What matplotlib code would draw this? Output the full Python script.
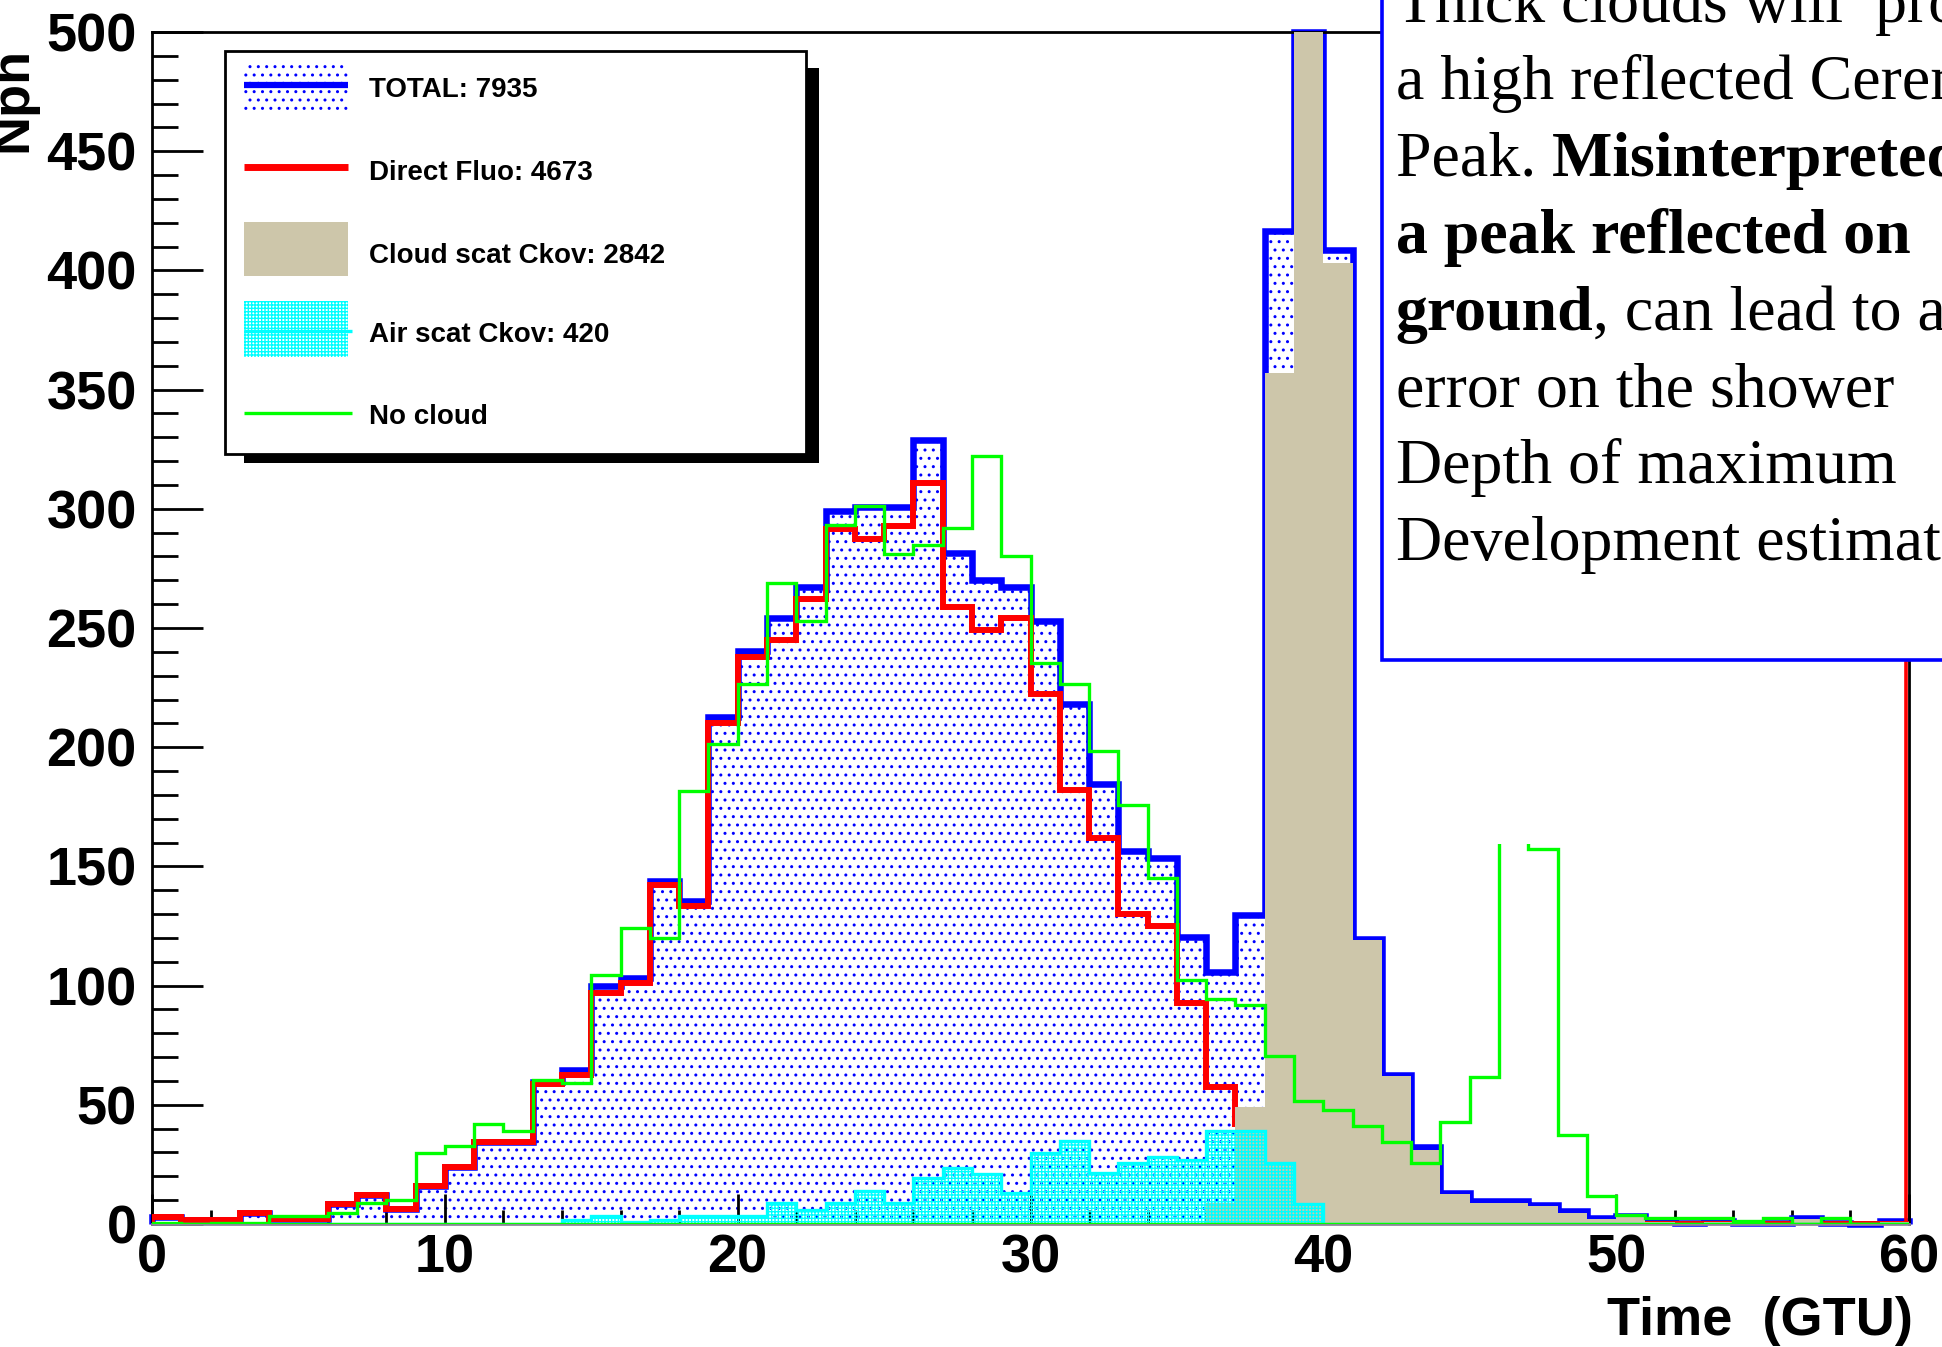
import numpy as np
import matplotlib
matplotlib.use("Agg")
import matplotlib.pyplot as plt
from matplotlib.patches import Rectangle
from matplotlib.lines import Line2D
from matplotlib.ticker import MultipleLocator
from matplotlib.transforms import offset_copy

# ---------------- data ----------------
bin_edges = np.arange(0, 61, 1)          # 60 bins of 1 GTU

total = [3, 1.5, 1.5, 4.5, 2, 2, 8.4, 12.2, 6.3, 16,
         23.7, 34.5, 34.5, 59.5, 64.5, 99.7, 103, 143.9, 135.4, 212.6,
         240.5, 254, 267, 299, 300.6, 300.6, 329, 281.6, 270, 267,
         253, 218, 184.6, 156.4, 153.7, 120.4, 105.7, 129.7, 416.6, 1740,
         408.5, 119.6, 62.5, 32.2, 13.2, 9.5, 9.5, 8.1, 5.3, 2.7,
         3.5, 1.4, 0.5, 1.4, 0.5, 0.5, 2.7, 0.3, 0, 1.4]

direct = [3, 1.5, 1.5, 4.5, 2, 2, 8.4, 12.2, 6.3, 16,
          23.7, 34.5, 34.5, 58.6, 62.4, 97, 101, 142.4, 133.3, 210,
          238, 245, 262, 291.7, 287.5, 292.6, 311, 259, 249, 254,
          222.5, 182, 162, 130, 125, 92.6, 57.5, 42, 14, 1,
          0, 0, 0, 0, 0, 0, 0, 0, 0, 0,
          0, 0, 0, 0, 0, 0, 0, 0, 0, 0]

cloud = [0, 0, 0, 0, 0, 0, 0, 0, 0, 0,
         0, 0, 0, 0, 0, 0, 0, 0, 0, 0,
         0, 0, 0, 0, 0, 0, 0, 0, 0, 0,
         0, 0, 0, 0, 0, 0, 9, 49, 357, 1759,
         403, 119, 62, 31, 12.5, 8.6, 8.6, 7.5, 4.7, 2.2,
         3, 0.8, 0.3, 0.8, 0.3, 0.3, 2.2, 0.3, 0, 0.8]

air = [0, 0, 0, 0, 0, 0, 0, 0, 0, 0,
       0, 0, 0, 0, 1.7, 3.4, 1, 1.7, 3.4, 3.4,
       3.4, 9, 5.9, 9, 13.8, 9, 19.4, 23.6, 20.8, 12.9,
       29.9, 35, 21.5, 25.5, 28, 27, 39, 39, 25.5, 8.5,
       0, 0, 0, 0, 0, 0, 0, 0, 0, 0,
       0, 0, 0, 0, 0, 0, 0, 0, 0, 0]

nocloud = [0.5, 0, 0.5, 0.5, 3.4, 3.4, 4.7, 8.6, 10, 29.6,
           32.7, 41.8, 39, 60.4, 59, 104.4, 124.2, 120.1, 181.5, 201.4,
           226.7, 269, 253, 293, 301, 281, 285, 292, 322, 280,
           235.5, 226.7, 198.4, 175.7, 145.3, 102.3, 94.2, 91.7, 70.6, 51.5,
           47.8, 41, 34.5, 25.6, 42.8, 61.6, 420, 157.3, 37.2, 11.9,
           3.9, 2.7, 2.7, 2.7, 1.4, 2.7, 0, 2.7, 0, 0]

legend_labels = ["TOTAL: 7935", "Direct Fluo: 4673", "Cloud scat Ckov: 2842",
                 "Air scat Ckov: 420", "No cloud"]
x_ticks = [0, 10, 20, 30, 40, 50, 60]
y_ticks = [0, 50, 100, 150, 200, 250, 300, 350, 400, 450, 500]
x_title = "Time  (GTU)"
y_title = "Nph"
note_lines = [
    [("Thick clouds will  produce", False)],
    [("a high reflected Cerenkov", False)],
    [("Peak. ", False), ("Misinterpreted as", True)],
    [("a peak reflected on", True)],
    [("ground", True), (", can lead to an", False)],
    [("error on the shower", False)],
    [("Depth of maximum", False)],
    [("Development estimation", False)],
]

# ---------------- style ----------------
W, H, DPI = 1942, 1347, 100
XMAX, YMAX = 60, 500
BLUE, RED, TAN, CYAN, GREEN = "#0000ff", "#ff0000", "#cdc6aa", "#00ffff", "#00ff00"

plt.rcParams["font.family"] = ["Liberation Sans", "DejaVu Sans"]
plt.rcParams["hatch.linewidth"] = 1.0

fig = plt.figure(figsize=(W / DPI, H / DPI), dpi=DPI)
fig.patch.set_facecolor("white")


def fx(x):
    return x / W


def fy(y):
    return 1 - y / H


ax_l, ax_r, ax_t, ax_b = 152, 1909, 32, 1224
ax = fig.add_axes([fx(ax_l), fy(ax_b), (ax_r - ax_l) / W, (ax_b - ax_t) / H])

# TOTAL: dotted fill + thick outline
ax.stairs(total, bin_edges, fill=True, facecolor="none", edgecolor=BLUE,
          hatch="..", linewidth=0, zorder=1)
ax.stairs(np.minimum(total, YMAX), bin_edges, color=BLUE, linewidth=4.7,
          zorder=2, clip_on=False)
# Direct fluorescence
ax.stairs(direct, bin_edges, color=RED, linewidth=4.3, zorder=3)
ax.vlines(bin_edges[-1], 0, YMAX, color=RED, linewidth=2.6, zorder=2.4,
          transform=offset_copy(ax.transData, fig=fig, x=-2.6, y=0, units="dots"))
# Cloud scattered Cherenkov
ax.stairs(cloud, bin_edges, fill=True, facecolor=TAN, edgecolor="none",
          linewidth=0, zorder=4)
# Air scattered Cherenkov
ax.stairs(air, bin_edges, fill=True, facecolor="none", edgecolor=CYAN,
          hatch="+++++", linewidth=0, zorder=5)
ax.stairs(air, bin_edges, color=CYAN, linewidth=2.4, zorder=5)
# No cloud
ax.stairs(nocloud, bin_edges, color=GREEN, linewidth=2.4, zorder=6)
ax.axhline(0, color=GREEN, linewidth=2.4, zorder=6)
# white area hiding the top of the no-cloud ground peak (as in the reference)
ax.add_patch(Rectangle((bin_edges[46] - 0.2, 159.5), 1.4, 300,
                       facecolor="white", edgecolor="none", zorder=6.5))

ax.set_xlim(0, XMAX)
ax.set_ylim(0, YMAX)
ax.set_xticks(x_ticks)
ax.set_yticks(y_ticks)
ax.xaxis.set_minor_locator(MultipleLocator(2))
ax.yaxis.set_minor_locator(MultipleLocator(10))
ax.tick_params(axis="both", which="both", direction="in", top=False,
               right=False, width=2, colors="black")
ax.tick_params(axis="y", which="major", length=37, pad=11, labelsize=39)
ax.tick_params(axis="y", which="minor", length=18.5)
ax.tick_params(axis="x", which="major", length=21.5, pad=7, labelsize=39)
ax.tick_params(axis="x", which="minor", length=10)
for lab in ax.get_xticklabels() + ax.get_yticklabels():
    lab.set_fontweight("bold")
for side in ["left", "top", "right"]:
    ax.spines[side].set_linewidth(2)
    ax.spines[side].set_color("black")
ax.spines["bottom"].set_linewidth(2)
ax.spines["bottom"].set_color("#8a8a96")

# axis titles
fig.text(fx(1913), fy(1335), x_title, ha="right", va="baseline",
         fontsize=39, fontweight="bold")
fig.text(fx(26), fy(47), y_title, rotation=90, rotation_mode="anchor",
         ha="right", va="baseline", fontsize=39, fontweight="bold")


# ---------------- legend (drawn by hand, ROOT style) ----------------
def rect_px(x0, y0, x1, y1, **kw):
    r = Rectangle((fx(x0), fy(y1)), (x1 - x0) / W, (y1 - y0) / H,
                  transform=fig.transFigure, **kw)
    fig.add_artist(r)
    return r


def line_px(x0, x1, y, **kw):
    ln = Line2D([fx(x0), fx(x1)], [fy(y), fy(y)], transform=fig.transFigure,
                solid_capstyle="butt", **kw)
    fig.add_artist(ln)
    return ln


rect_px(244, 68, 819, 463, facecolor="black", edgecolor="none", zorder=1)
rect_px(225, 51, 806, 454, facecolor="white", edgecolor="black",
        linewidth=2, zorder=1.1)
# TOTAL
rect_px(244, 62, 348, 113, facecolor="none", edgecolor=BLUE, hatch="..",
        linewidth=0, zorder=1.2)
line_px(244, 348, 85, color=BLUE, linewidth=4.5, zorder=1.3)
# Direct
line_px(244, 348, 167, color=RED, linewidth=5, zorder=1.3)
# Cloud
rect_px(244, 222, 348, 276, facecolor=TAN, edgecolor="none", zorder=1.2)
# Air
rect_px(244, 301, 348, 357, facecolor="none", edgecolor=CYAN, hatch="+++++",
        linewidth=0, zorder=1.2)
line_px(244, 352, 331, color=CYAN, linewidth=2.4, zorder=1.3)
# No cloud
line_px(244, 352, 413, color=GREEN, linewidth=2.4, zorder=1.3)

for lab, base in zip(legend_labels, [97, 180, 263, 342, 424]):
    fig.text(fx(369), fy(base), lab, ha="left", va="baseline", fontsize=20,
             fontweight="bold", zorder=1.4)

# ---------------- annotation box ----------------
rect_px(1382, -30, W + 30, 660, facecolor="white", edgecolor=BLUE,
        linewidth=2.6, zorder=2, clip_on=False)

renderer = fig.canvas.get_renderer()
serif = ["Liberation Serif", "DejaVu Serif"]
x_start = 1395.5
for i, segs in enumerate(note_lines):
    base = 22 + 76.9 * i
    xcur = fx(x_start)
    for text, bold in segs:
        t = fig.text(xcur, fy(base), text, ha="left", va="baseline",
                     fontsize=46, family=serif,
                     fontweight="bold" if bold else "normal", zorder=3)
        bb = t.get_window_extent(renderer=renderer)
        width_px = bb.width
        if text.endswith(" "):
            t2 = fig.text(0, 0, "a a", fontsize=46, family=serif)
            t3 = fig.text(0, 0, "aa", fontsize=46, family=serif)
            sp = (t2.get_window_extent(renderer=renderer).width
                  - t3.get_window_extent(renderer=renderer).width)
            t2.remove()
            t3.remove()
            tr = fig.text(0, 0, text.rstrip(), fontsize=46, family=serif)
            width_px = tr.get_window_extent(renderer=renderer).width + sp
            tr.remove()
        xcur += width_px / W

fig.savefig("out.png", dpi=DPI)
